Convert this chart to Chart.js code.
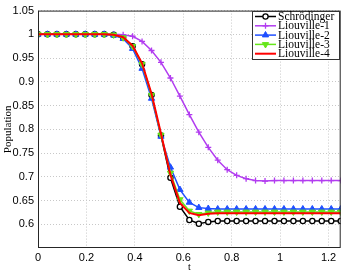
<!DOCTYPE html>
<html>
<head>
<meta charset="utf-8">
<script src="https://cdn.jsdelivr.net/npm/chart.js@4.4.1/dist/chart.umd.min.js"></script>
<style>
  html, body { margin: 0; padding: 0; background: #fff; }
  #wrap { width: 346px; height: 273px; }
</style>
</head>
<body>
<div id="wrap"><canvas id="popChart" width="346" height="273"></canvas></div>
<script>
const tValues = [0, 0.0391, 0.0781, 0.1172, 0.1563, 0.1953, 0.2344, 0.2734, 0.3125, 0.3516,
  0.3906, 0.4297, 0.4688, 0.5078, 0.5469, 0.5859, 0.625, 0.6641, 0.7031, 0.7422,
  0.7813, 0.8203, 0.8594, 0.8984, 0.9375, 0.9766, 1.0156, 1.0547, 1.0938, 1.1328,
  1.1719, 1.2109, 1.25]

const schrodinger = [1, 1, 1, 1, 1, 1, 1, 1, 0.999, 0.993, 0.975, 0.937, 0.872, 0.787, 0.698,
  0.637, 0.609, 0.601, 0.605, 0.607, 0.607, 0.607, 0.607, 0.607, 0.607, 0.607, 0.607,
  0.607, 0.607, 0.607, 0.607, 0.607, 0.607]
const liouville1 = [1, 1, 1, 1, 1, 1, 1, 1, 1, 0.999, 0.996, 0.985, 0.966, 0.941, 0.908,
  0.870, 0.831, 0.794, 0.762, 0.735, 0.715, 0.703, 0.696, 0.692, 0.691, 0.692, 0.692,
  0.692, 0.692, 0.692, 0.692, 0.692, 0.692]
const liouville2 = [1, 1, 1, 1, 1, 1, 1, 1, 0.998, 0.991, 0.970, 0.928, 0.865, 0.785, 0.720,
  0.673, 0.646, 0.635, 0.633, 0.632, 0.632, 0.632, 0.632, 0.632, 0.632, 0.632, 0.632,
  0.632, 0.632, 0.632, 0.632, 0.632, 0.632]
const liouville3 = [1, 1, 1, 1, 1, 1, 1, 1, 0.999, 0.993, 0.975, 0.937, 0.872, 0.788, 0.708,
  0.652, 0.628, 0.621, 0.624, 0.626, 0.626, 0.626, 0.626, 0.626, 0.626, 0.626, 0.626,
  0.626, 0.626, 0.626, 0.626, 0.626, 0.626]
const liouville4 = [1, 1, 1, 1, 1, 1, 1, 1, 0.999, 0.994, 0.976, 0.939, 0.875, 0.791, 0.704,
  0.645, 0.624, 0.619, 0.622, 0.623, 0.623, 0.623, 0.623, 0.623, 0.623, 0.623, 0.623,
  0.623, 0.623, 0.623, 0.623, 0.623, 0.623]

const seriesNames = ['Schrödinger', 'Liouville-1', 'Liouville-2', 'Liouville-3', 'Liouville-4']
const xTicks = [0, 0.2, 0.4, 0.6, 0.8, 1, 1.2]
const yTicks = [0.6, 0.65, 0.7, 0.75, 0.8, 0.85, 0.9, 0.95, 1, 1.05]

const toPoints = (ys) => tValues.map((t, i) => ({ x: t, y: ys[i] }))

const serif = 'Liberation Serif'
const sans = 'Liberation Sans'

// legend box + plot frame, drawn matlab style
const matlabFrame = {
  id: 'matlabFrame',
  afterDatasetsDraw(chart) {
    const { ctx, chartArea: a } = chart
    ctx.save()
    ctx.strokeStyle = '#262626'
    ctx.lineWidth = 1
    ctx.strokeRect(a.left + 0.5, a.top + 0.5, a.right - a.left - 1, a.bottom - a.top - 1)

    const bx = 252, by = 11, bw = 87, bh = 48
    ctx.fillStyle = '#fff'
    ctx.fillRect(bx, by, bw, bh)
    ctx.strokeStyle = '#333'
    ctx.strokeRect(bx + 0.5, by + 0.5, bw, bh)
    ctx.font = '11.5px ' + serif
    ctx.textBaseline = 'middle'
    chart.data.datasets.forEach((ds, i) => {
      const cy = by + 5.5 + i * 9.3
      ctx.strokeStyle = ds.borderColor
      ctx.lineWidth = ds.borderWidth
      ctx.beginPath()
      ctx.moveTo(bx + 3, cy)
      ctx.lineTo(bx + 24, cy)
      ctx.stroke()
      if (ds.pointRadius > 0) {
        ctx.fillStyle = ds.pointBackgroundColor
        ctx.strokeStyle = ds.pointBorderColor
        ctx.lineWidth = ds.pointBorderWidth || 1
        Chart.helpers.drawPoint(ctx, {
          pointStyle: ds.pointStyle,
          rotation: ds.pointRotation || 0,
          radius: ds.pointRadius,
          borderWidth: ds.pointBorderWidth || 1
        }, bx + 13.5, cy)
      }
      ctx.fillStyle = '#000'
      ctx.fillText(ds.label, bx + 26, cy + 0.5)
    })
    ctx.restore()
  }
}

const ctx = document.getElementById('popChart')
new Chart(ctx, {
  type: 'line',
  data: {
    datasets: [
      {
        label: seriesNames[0], data: toPoints(schrodinger),
        borderColor: '#000', borderWidth: 1.5,
        pointStyle: 'circle', pointRadius: 2.6, pointBorderWidth: 1.3,
        pointBackgroundColor: '#fff', pointBorderColor: '#000', order: 4
      },
      {
        label: seriesNames[1], data: toPoints(liouville1),
        borderColor: '#b23cf0', borderWidth: 1.5,
        pointStyle: 'cross', pointRadius: 3, pointBorderWidth: 1.3,
        pointBackgroundColor: '#b23cf0', pointBorderColor: '#b23cf0', order: 3
      },
      {
        label: seriesNames[2], data: toPoints(liouville2),
        borderColor: '#1f4fff', borderWidth: 1.5,
        pointStyle: 'triangle', pointRadius: 3.6, pointBorderWidth: 1,
        pointBackgroundColor: '#1f4fff', pointBorderColor: '#1f4fff', order: 2
      },
      {
        label: seriesNames[3], data: toPoints(liouville3),
        borderColor: '#66e61a', borderWidth: 1.5,
        pointStyle: 'triangle', pointRotation: 180, pointRadius: 3.6, pointBorderWidth: 1,
        pointBackgroundColor: '#66e61a', pointBorderColor: '#66e61a', order: 1
      },
      {
        label: seriesNames[4], data: toPoints(liouville4),
        borderColor: '#ff0000', borderWidth: 2,
        pointRadius: 0, pointBackgroundColor: '#ff0000', pointBorderColor: '#ff0000', order: 0
      }
    ]
  },
  options: {
    responsive: false,
    animation: false,
    events: [],
    layout: { padding: { top: 9, right: 5, left: 2, bottom: 0 } },
    elements: { line: { tension: 0 } },
    plugins: { legend: { display: false }, tooltip: { enabled: false } },
    scales: {
      x: {
        type: 'linear', min: 0, max: 1.25,
        afterBuildTicks: (s) => { s.ticks = xTicks.map(v => ({ value: v })) },
        afterFit: (s) => { s.height = 25 },
        grid: { color: '#c8c8c8', borderDash: [1, 2], drawTicks: false, lineWidth: 1 },
        border: { display: false, dash: [1, 2] },
        ticks: {
          color: '#000', padding: 3, maxRotation: 0,
          font: { family: sans, size: 11 },
          callback: (v) => String(v)
        },
        title: {
          display: true, text: 't', color: '#000', padding: { top: -3, bottom: 0 },
          font: { family: serif, size: 10 }
        }
      },
      y: {
        type: 'linear', min: 0.55, max: 1.05,
        afterBuildTicks: (s) => { s.ticks = yTicks.map(v => ({ value: v })) },
        afterFit: (s) => { s.width = 36 },
        grid: { color: '#c8c8c8', borderDash: [1, 2], drawTicks: false, lineWidth: 1 },
        border: { display: false, dash: [1, 2] },
        ticks: {
          color: '#000', padding: 4,
          font: { family: sans, size: 11 },
          callback: (v) => String(parseFloat(v.toFixed(2)))
        },
        title: {
          display: true, text: 'Population', color: '#000', padding: { top: 0, bottom: 0 },
          font: { family: serif, size: 11 }
        }
      }
    }
  },
  plugins: [matlabFrame]
})
</script>
</body>
</html>
